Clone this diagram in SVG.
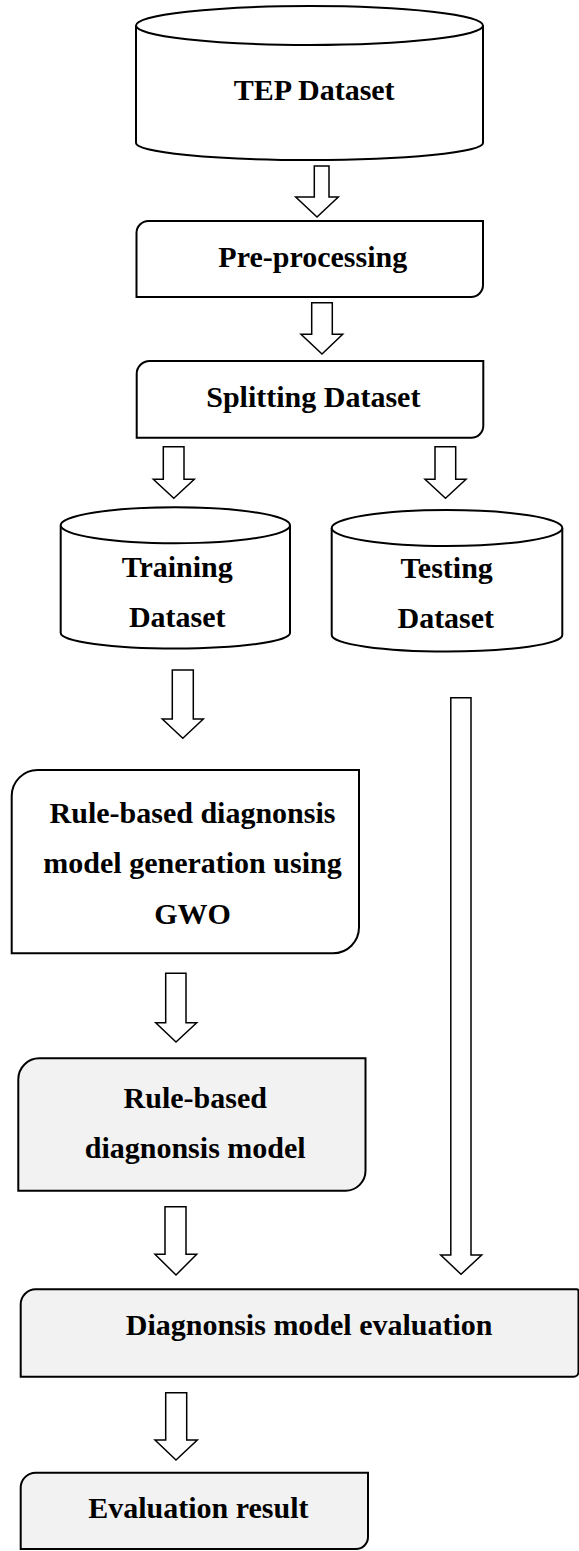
<svg xmlns="http://www.w3.org/2000/svg" width="579" height="1551" viewBox="0 0 579 1551">
<style>
.box{fill:#ffffff;stroke:#000;stroke-width:2}
.gray{fill:#f2f2f2;stroke:#000;stroke-width:2}
.arr{fill:#ffffff;stroke:#000;stroke-width:1.5;stroke-linejoin:miter}
.t{font-family:"Liberation Serif","Times New Roman",Times,serif;font-weight:bold;font-size:30px;fill:#000;text-anchor:middle}
</style>
<rect width="579" height="1551" fill="#ffffff"/>
<g id="connectors">
<path class="arr" d="M314.3,166 H329 V197 H338.3 L317,217 L295.7,197 H314.3 Z"/>
<path class="arr" d="M311.7,302.7 H332.3 V334.3 H342.7 L322,354 L301,334.3 H311.7 Z"/>
<path class="arr" d="M163.3,446.7 H184 V479.3 H194.3 L173.8,498.3 L153.3,479.3 H163.3 Z"/>
<path class="arr" d="M435,446.7 H455.7 V479.3 H466 L445.5,498.3 L425,479.3 H435 Z"/>
<path class="arr" d="M172.3,670 H193.3 V719 H203.3 L182.8,738.3 L162.3,719 H172.3 Z"/>
<path class="arr" d="M450.8,697.7 H471 V1255 H481.7 L461,1274.3 L440.7,1255 H450.8 Z"/>
<path class="arr" d="M165.7,973.3 H186 V1022.7 H196.7 L176,1042 L155.7,1022.7 H165.7 Z"/>
<path class="arr" d="M165,1206.7 H186 V1254.3 H196.7 L176,1275 L155,1254.3 H165 Z"/>
<path class="arr" d="M165.7,1392.7 H186.7 V1440 H197.3 L176,1460 L155,1440 H165.7 Z"/>
</g>
<g id="tep">
<path class="box" d="M136,25.5 V143 A173.5,17 0 0 0 483,143 V25.5"/>
<ellipse class="box" cx="309.5" cy="25.5" rx="173.5" ry="19.5"/>
<text class="t" x="314.2" y="100">TEP Dataset</text>
</g>
<g id="preprocessing">
<path class="box" d="M148.5,221 H483 V285 A12,12 0 0 1 471,297 H136.5 V233 A12,12 0 0 1 148.5,221 Z"/>
<text class="t" x="312.8" y="266.7">Pre-processing</text>
</g>
<g id="splitting">
<path class="box" d="M149.7,361 H483.3 V425.7 A12,12 0 0 1 471.3,437.7 H136.7 V374 A13,13 0 0 1 149.7,361 Z"/>
<text class="t" x="313.3" y="406.7">Splitting Dataset</text>
</g>
<g id="training">
<path class="box" d="M60.7,525.3 V633 A114.65,15.5 0 0 0 290,633 V525.3"/>
<ellipse class="box" cx="175.35" cy="525.3" rx="114.65" ry="18"/>
<text class="t" x="177.2" y="576.7">Training</text>
<text class="t" x="177.2" y="626.7">Dataset</text>
</g>
<g id="testing">
<path class="box" d="M331.7,528 V635 A115.3,16.5 0 0 0 562.3,635 V528"/>
<ellipse class="box" cx="447" cy="528" rx="115.3" ry="18"/>
<text class="t" x="446.7" y="578">Testing</text>
<text class="t" x="445.8" y="628">Dataset</text>
</g>
<g id="generation">
<path class="box" d="M37.7,770 H359 V927.3 A26,26 0 0 1 333,953.3 H11.7 V796 A26,26 0 0 1 37.7,770 Z"/>
<text class="t" x="192.5" y="822.7">Rule-based diagnonsis</text>
<text class="t" x="192.5" y="873.3">model generation using</text>
<text class="t" x="192.5" y="924">GWO</text>
</g>
<g id="model">
<path class="gray" d="M39.3,1058.3 H365.5 V1170.7 A20,20 0 0 1 345.5,1190.7 H18.3 V1079.3 A21,21 0 0 1 39.3,1058.3 Z"/>
<text class="t" x="195.3" y="1108.3">Rule-based</text>
<text class="t" x="195.2" y="1158.3">diagnonsis model</text>
</g>
<g id="evaluation">
<path class="gray" d="M35.7,1289.3 H576.5 A2,2 0 0 1 578.5,1291.3 V1371.7 A5,5 0 0 1 573.5,1376.7 H20.7 V1304.3 A15,15 0 0 1 35.7,1289.3 Z"/>
<text class="t" x="309.2" y="1335">Diagnonsis model evaluation</text>
</g>
<g id="result">
<path class="gray" d="M35.7,1472.7 H368 V1537 A12,12 0 0 1 356,1549 H20.7 V1487.7 A15,15 0 0 1 35.7,1472.7 Z"/>
<text class="t" x="198.3" y="1518.3">Evaluation result</text>
</g>
</svg>
